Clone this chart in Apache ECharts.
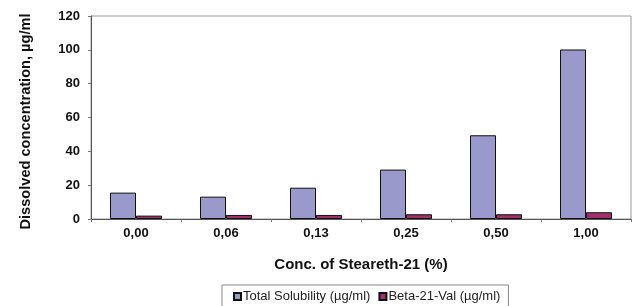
<!DOCTYPE html>
<html>
<head>
<meta charset="utf-8">
<script src="https://cdn.jsdelivr.net/npm/echarts@6/dist/echarts.min.js"></script>
<style>
html,body{margin:0;padding:0;background:#fff;}
#chart{width:634px;height:306px;}
</style>
</head>
<body>
<div id="chart"></div>
<script>
const categories = ['0,00', '0,06', '0,13', '0,25', '0,50', '1,00'];
const totalSolubility = [15.6, 13.2, 18.5, 29.2, 49.5, 100.2];
const betaVal = [2.0, 2.4, 2.4, 2.8, 2.8, 4.0];
const seriesNames = ['Total Solubility (µg/ml)', 'Beta-21-Val (µg/ml)'];
const yTicks = [0, 20, 40, 60, 80, 100, 120];

const FONT = '"Liberation Sans", Arial, sans-serif';
const chart = echarts.init(document.getElementById('chart'), null, {renderer: 'canvas'});
chart.setOption({
  animation: false,
  backgroundColor: '#fff',
  textStyle: {fontFamily: FONT},
  grid: {
    left: 91, right: 3, top: 16, bottom: 87,
    show: true, borderColor: '#999', borderWidth: 1, backgroundColor: 'transparent'
  },
  legend: {
    left: 222, top: 285,
    backgroundColor: '#fff',
    borderColor: '#888', borderWidth: 1,
    padding: [5, 8, 8, 11],
    itemGap: 8,
    itemWidth: 7, itemHeight: 7,
    icon: 'rect',
    textStyle: {fontFamily: FONT, fontSize: 13, color: '#222', padding: [0, 0, 0, -3]},
    data: seriesNames
  },
  xAxis: {
    type: 'category',
    data: categories,
    name: 'Conc. of Steareth-21 (%)',
    nameLocation: 'middle',
    nameGap: 38,
    nameTextStyle: {fontFamily: FONT, fontSize: 15, fontWeight: 'bold', color: '#111'},
    axisLine: {lineStyle: {color: '#555', width: 1}},
    axisTick: {show: true, length: 3, lineStyle: {color: '#777'}},
    axisLabel: {fontFamily: FONT, fontSize: 13, fontWeight: 'bold', color: '#111', margin: 8}
  },
  yAxis: {
    type: 'value',
    min: 0, max: 120, interval: 20,
    name: 'Dissolved concentration, µg/ml',
    nameLocation: 'middle',
    nameGap: 58,
    nameRotate: 90,
    nameTextStyle: {fontFamily: FONT, fontSize: 14.6, fontWeight: 'bold', color: '#111', padding: [0, 8, 0, 0]},
    axisLine: {show: true, lineStyle: {color: '#555', width: 1}},
    axisTick: {show: true, length: 3, lineStyle: {color: '#777'}},
    splitLine: {show: false},
    axisLabel: {
      fontFamily: FONT, fontSize: 13, fontWeight: 'bold', color: '#111', margin: 11,
      formatter: v => yTicks.includes(v) ? String(v) : ''
    }
  },
  series: [
    {
      name: seriesNames[0], type: 'bar', data: totalSolubility,
      barWidth: 26, barGap: '0%',
      itemStyle: {color: '#9999cc', borderColor: '#111', borderWidth: 1}
    },
    {
      name: seriesNames[1], type: 'bar', data: betaVal,
      barWidth: 26,
      itemStyle: {color: '#a0306a', borderColor: '#111', borderWidth: 1}
    }
  ]
});
</script>
</body>
</html>
